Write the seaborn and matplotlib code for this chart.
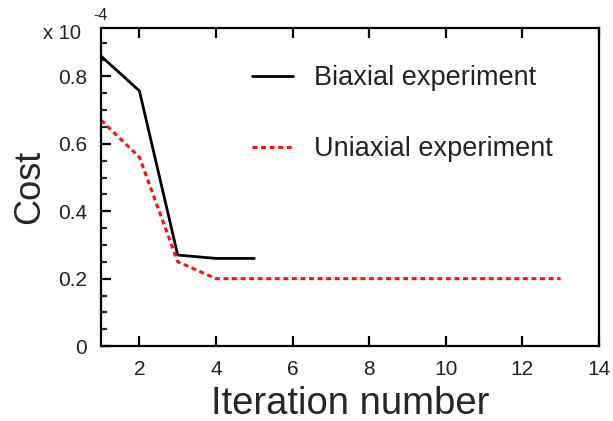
import numpy as np
import pandas as pd
import matplotlib
matplotlib.use("Agg")
import matplotlib.pyplot as plt
import seaborn as sns
from matplotlib.ticker import MultipleLocator

sns.set_theme(style="white")
plt.rcParams['font.family'] = ['Liberation Sans', 'DejaVu Sans']

biaxial_iter = [1, 2, 3, 4, 5]
biaxial_cost = [0.86, 0.757, 0.27, 0.26, 0.26]
uniaxial_iter = [1, 2, 3, 4, 5, 6, 7, 8, 9, 10, 11, 12, 13]
uniaxial_cost = [0.67, 0.56, 0.25, 0.20, 0.20, 0.20, 0.20, 0.20, 0.20, 0.20, 0.20, 0.20, 0.20]

df_b = pd.DataFrame({"Iteration": biaxial_iter, "Cost": biaxial_cost})
df_u = pd.DataFrame({"Iteration": uniaxial_iter, "Cost": uniaxial_cost})

fig = plt.figure(figsize=(6.13, 4.21), dpi=100)
ax = fig.add_axes([0.165, 0.178, 0.812, 0.755])

sns.lineplot(data=df_b, x="Iteration", y="Cost", ax=ax, color="black", lw=2.0,
             label="Biaxial experiment")
sns.lineplot(data=df_u, x="Iteration", y="Cost", ax=ax, color="#ff1010", lw=2.2,
             linestyle=(0, (1.6, 1.2)), label="Uniaxial experiment")

ax.set_xlim(1, 14)
ax.set_ylim(0, 0.943)
ax.set_xticks([2, 4, 6, 8, 10, 12, 14])
ax.set_yticks([0, 0.2, 0.4, 0.6, 0.8])
ax.set_yticklabels(["0", "0.2", "0.4", "0.6", "0.8"])
ax.yaxis.set_minor_locator(MultipleLocator(0.05))

for s in ax.spines.values():
    s.set_visible(True)
    s.set_color("black")
    s.set_linewidth(1.6)

ax.tick_params(axis="x", which="major", direction="in", length=7, width=1.6,
               top=True, bottom=True, labelsize=15, pad=10, colors="black")
ax.tick_params(axis="y", which="major", direction="in", length=7, width=1.6,
               left=True, right=False, labelsize=15, pad=10, colors="black")
ax.tick_params(axis="y", which="minor", direction="in", length=4, width=1.6,
               left=True, right=False)
for lab in ax.get_xticklabels() + ax.get_yticklabels():
    lab.set_color("#222222")

ax.set_xlabel("Iteration number", fontsize=27.5, labelpad=5)
ax.set_ylabel("Cost", fontsize=26, labelpad=8)

fig.text(0.07, 0.92, "x 10", fontsize=14.5, color="#222222", ha="left", va="center")
fig.text(0.175, 0.963, "-4", fontsize=11.5, color="#222222", ha="right", va="center")

leg = ax.legend(loc="upper left", bbox_to_anchor=(0.255, 0.96), frameon=False,
                fontsize=19.5, handlelength=1.48, handletextpad=0.8, labelspacing=1.65)
for t in leg.get_texts():
    t.set_color("#222222")

fig.savefig("out.png", dpi=100)
